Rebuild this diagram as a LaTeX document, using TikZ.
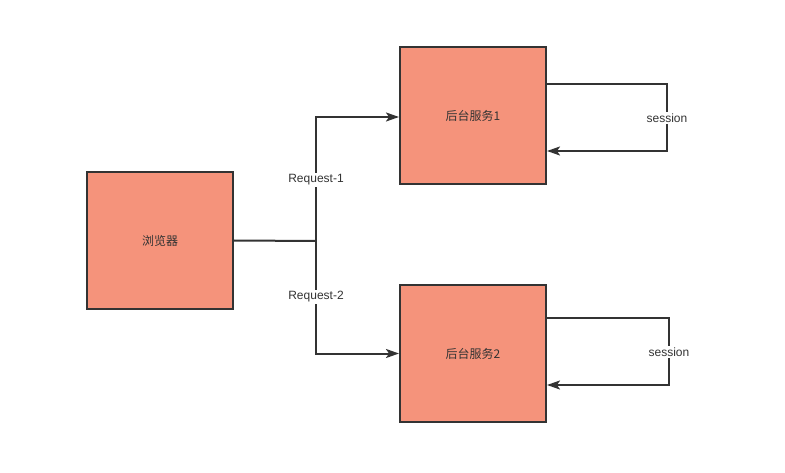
\documentclass[tikz,border=0pt]{standalone}
\usepackage{fontspec}
\setmainfont{Liberation Sans}
\newfontfamily\cjk{Noto Sans CJK SC}
\usetikzlibrary{arrows.meta,calc,positioning}
\definecolor{boxfill}{HTML}{F5937B}
\definecolor{ink}{HTML}{333333}
\tikzset{
  svc/.style={draw=ink, line width=2pt, fill=boxfill, minimum width=146pt,
    minimum height=137pt, inner sep=0pt, font=\cjk\fontsize{12}{14}\selectfont, text=ink},
  wire/.style={draw=ink, line width=2pt},
  arr/.style={wire, -{Stealth[length=13pt, width=9pt, inset=3pt]}},
  tag/.style={fill=white, inner sep=2pt, font=\fontsize{12}{14}\selectfont, text=ink},
}

\begin{document}
\begin{tikzpicture}[x=1pt, y=-1pt]
  \useasboundingbox (0,0) rectangle (785,473);

  % --- boxes ---
  \node[svc] (browser) at (160,240.5) {浏览器};
  \node[svc] (srv1) at (473,115.5) {后台服务1};
  \node[svc] (srv2) at (473,353.5) {后台服务2};

  % --- requests ---
  \coordinate (fork) at (316,241);
  \draw[wire] (browser.east) -- (fork);
  \draw[arr] (fork) |- ([yshift=-1.5pt]srv1.west);
  \draw[arr] (fork) |- (srv2.west);
  \node[tag] (req1) at (316,180) {Request-1};
  \node[tag] (req2) at (316,297) {Request-2};

  % --- session loops ---
  \coordinate (s1out) at ([yshift=31.5pt]srv1.east);
  \coordinate (s1in) at ([yshift=-35.5pt]srv1.east);
  \draw[arr] (s1out) -- ++(120,0) |- (s1in);
  \node[tag] (ses1) at (667,118) {session};
  \coordinate (s2out) at ([yshift=35.5pt]srv2.east);
  \coordinate (s2in) at ([yshift=-31.5pt]srv2.east);
  \draw[arr] (s2out) -- ++(122,0) |- (s2in);
  \node[tag] (ses2) at (669,352) {session};
\end{tikzpicture}
\end{document}
